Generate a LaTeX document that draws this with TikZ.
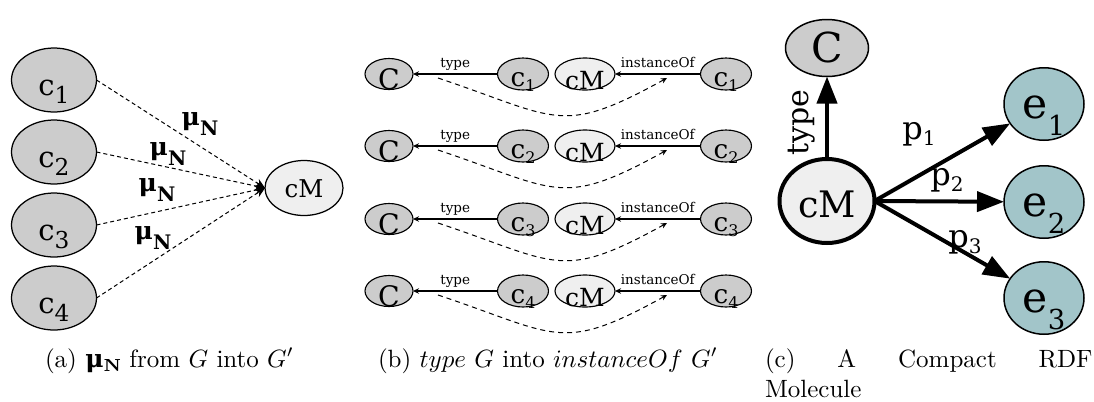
\documentclass[tikz,border=0pt]{standalone}
\usepackage{fontspec}
\usetikzlibrary{arrows.meta,shapes.geometric}
\newfontfamily\dfont{DejaVu Serif}
\definecolor{nodegray}{RGB}{204,204,204}
\definecolor{nodelight}{RGB}{239,239,239}
\definecolor{nodeteal}{RGB}{162,197,201}
% text whose baseline sits a given distance below the node centre
\newcommand\lowered[2]{\raisebox{-#1}[0pt][0pt]{#2}}
% letter followed by a smaller, dropped index: {letter}{index}{size}{drop}
\newcommand\indexed[4]{#1\raisebox{-#4}{\fontsize{#3}{#3}\selectfont #2}}
\begin{document}
\begin{tikzpicture}[x=0.4pt,y=-0.4pt,
  every node/.style={inner sep=0pt,outer sep=0pt},
  % panel (a)
  ca/.style={ellipse,draw,line width=0.5pt,fill=nodegray,minimum width=34pt,minimum height=25.6pt,
    font=\dfont\fontsize{11.6pt}{12pt}\selectfont},
  cma/.style={ellipse,draw,line width=0.5pt,fill=nodelight,minimum width=31.2pt,minimum height=22pt,
    font=\dfont\fontsize{9.8pt}{12pt}\selectfont},
  mapedge/.style={line width=0.4pt,dash pattern=on 1.6pt off 1.2pt,-{Stealth[length=4pt,width=3.4pt]}},
  mulabel/.style={font=\dfont\bfseries\fontsize{10pt}{12pt}\selectfont},
  % panel (b)
  bclass/.style={ellipse,draw,line width=0.45pt,fill=nodegray,minimum width=19.2pt,minimum height=12.4pt,
    font=\dfont\fontsize{11.3pt}{12pt}\selectfont},
  binst/.style={ellipse,draw,line width=0.45pt,fill=nodegray,minimum width=20.4pt,minimum height=12.8pt,
    font=\dfont\fontsize{10.5pt}{12pt}\selectfont},
  bmol/.style={ellipse,draw,line width=0.45pt,fill=nodelight,minimum width=24pt,minimum height=12.8pt,
    font=\dfont\fontsize{10pt}{12pt}\selectfont},
  bedge/.style={line width=0.45pt,-{Stealth[length=2.4pt,width=2.2pt]}},
  bdash/.style={line width=0.4pt,dash pattern=on 2pt off 1.6pt,-{Stealth[length=2.4pt,width=2.2pt]}},
  blabel/.style={font=\dfont\fontsize{5.4pt}{6pt}\selectfont,anchor=base,yshift=2.8pt},
  % panel (c)
  cclass/.style={ellipse,draw,line width=0.6pt,fill=nodegray,minimum width=33.2pt,minimum height=22.8pt,
    font=\dfont\fontsize{16.5pt}{18pt}\selectfont},
  cmol/.style={ellipse,draw,line width=1.6pt,fill=nodelight,minimum width=38pt,minimum height=33.6pt,
    font=\dfont\fontsize{14.6pt}{16pt}\selectfont},
  cent/.style={ellipse,draw,line width=0.6pt,fill=nodeteal,minimum width=32pt,minimum height=29pt,
    font=\dfont\fontsize{17pt}{18pt}\selectfont},
  cedge/.style={line width=1.6pt,-{Triangle[length=10.8pt,width=8pt]}},
  clabel/.style={font=\dfont\fontsize{12.8pt}{14pt}\selectfont},
]
\useasboundingbox (0,0) rectangle (1094,401);

% ---------- (a) mapping of the four classes into one molecule ----------
\node[ca] (a1) at (54,80)  {\lowered{6.2pt}{\indexed{c}{1}{9.3pt}{3.2pt}}};
\node[ca] (a2) at (54,152) {\lowered{6.2pt}{\indexed{c}{2}{9.3pt}{3.2pt}}};
\node[ca] (a3) at (54,225) {\lowered{6.2pt}{\indexed{c}{3}{9.3pt}{3.2pt}}};
\node[ca] (a4) at (54,298) {\lowered{6.2pt}{\indexed{c}{4}{9.3pt}{3.2pt}}};
\node[cma] (aM) at (304,188) {\lowered{3.6pt}{cM}};
\foreach \k in {1,...,4} \draw[mapedge] (a\k.east) -- (aM.west);
\node[mulabel] (mu1) at (200,124) {\indexed{μ}{N}{8pt}{4pt}};
\node[mulabel] (mu2) at (168,154) {\indexed{μ}{N}{8pt}{4pt}};
\node[mulabel] (mu3) at (157,190) {\indexed{μ}{N}{8pt}{4pt}};
\node[mulabel] (mu4) at (153,238) {\indexed{μ}{N}{8pt}{4pt}};

% ---------- (b) type edges rewritten as instanceOf edges ----------
\foreach \i/\y in {1/74,2/146,3/219,4/291} {
  \node[bclass] (bC\i) at (389,\y) {\lowered{6pt}{C}};
  \node[binst]  (bc\i) at (523,\y) {\lowered{5pt}{\indexed{c}{\i}{6.4pt}{2pt}}};
  \node[bmol]   (bM\i) at (585,\y) {\lowered{6pt}{cM}};
  \node[binst]  (bd\i) at (726,\y) {\lowered{5pt}{\indexed{c}{\i}{6.4pt}{2pt}}};
  \draw[bedge] (bc\i) -- (bC\i) node[blabel,midway] (bt\i) {type};
  \draw[bedge] (bd\i) -- (bM\i) node[blabel,midway] (bi\i) {instanceOf};
  \coordinate (bs\i) at (438,{\y+4});
  \coordinate (be\i) at (667,{\y+4});
  \draw[bdash] (bs\i) .. controls (558,{\y+44}) and (560,{\y+63}) .. (be\i);
}

% ---------- (c) compact RDF molecule ----------
\node[cclass] (cC) at (827,48)  {\lowered{5.6pt}{C}};
\node[cmol]   (cM) at (827,201) {\lowered{6.4pt}{cM}};
\node[cent]   (e1) at (1044,104) {\lowered{5.6pt}{\indexed{e}{1}{11pt}{6.8pt}}};
\node[cent]   (e2) at (1044,202) {\lowered{5.6pt}{\indexed{e}{2}{11pt}{6.8pt}}};
\node[cent]   (e3) at (1044,298) {\lowered{5.6pt}{\indexed{e}{3}{11pt}{6.8pt}}};
\draw[cedge] (cM) -- (cC);
\draw[cedge] (cM.east) -- (e1);
\draw[cedge] (cM.east) -- (e2);
\draw[cedge] (cM.east) -- (e3);
\node[font=\dfont\fontsize{12pt}{14pt}\selectfont,rotate=90] (ctype) at (802,123) {type};
\node[clabel] (p1) at (919,134) {\indexed{p}{1}{8pt}{2.7pt}};
\node[clabel] (p2) at (947,180) {\indexed{p}{2}{8pt}{2.7pt}};
\node[clabel] (p3) at (965,242) {\indexed{p}{3}{8pt}{2.7pt}};

% ---------- captions ----------
\node[anchor=base west] (capa) at (45,367)
  {(a) {\dfont\bfseries μ}\raisebox{-1.6pt}{\fontsize{7pt}{7pt}\selectfont\bfseries N} from $G$ into $G'$};
\node[anchor=base west] (capb) at (378,367)
  {(b) $type$ $G$ into $instanceOf$ $G'$};
\node[anchor=base west] (capc) at (765,367)
  {\parbox[t]{131pt}{(c) A Compact RDF\linebreak Molecule}};
\end{tikzpicture}
\end{document}
